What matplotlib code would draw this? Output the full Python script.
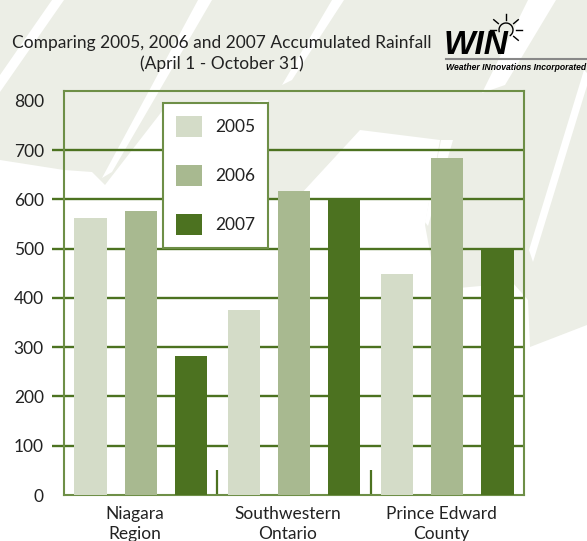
import matplotlib
matplotlib.use("Agg")
import matplotlib.pyplot as plt
import numpy as np
from matplotlib.patches import Polygon, Arc
from matplotlib.lines import Line2D

plt.rcParams['font.family'] = ['Lato', 'DejaVu Sans']

categories = ["Niagara\nRegion", "Southwestern\nOntario", "Prince Edward\nCounty"]
series_names = ["2005", "2006", "2007"]
rain_2005 = [562, 375, 448]
rain_2006 = [576, 617, 685]
rain_2007 = [282, 600, 502]
y_ticks = [0, 100, 200, 300, 400, 500, 600, 700, 800]

colors = ["#d4dcc8", "#a8b990", "#4c7220"]
grid_col = "#4c7220"
border_col = "#6e8f47"
pale = "#eceee6"

W, H = 587, 541
fig = plt.figure(figsize=(W / 100, H / 100), dpi=100)
fig.patch.set_facecolor("white")

def px(pts):
    return [(x / W, 1 - y / H) for x, y in pts]

# decorative background leaves
pale_poly = [(0, 0), (587, 0), (587, 325), (530, 347), (528, 300), (513, 283),
             (437, 290), (425, 225), (440, 140), (360, 130), (300, 195),
             (268, 200), (268, 100), (163, 110), (105, 185), (92, 172),
             (64, 170), (0, 160)]
fig.patches.append(Polygon(px(pale_poly), closed=True, transform=fig.transFigure,
                           facecolor=pale, edgecolor="none", zorder=-10))
white_stripes = [
    [(0, 75), (52, 0), (64, 0), (0, 92)],
    [(198, 0), (212, 0), (112, 172), (102, 178)],
    [(332, 0), (344, 0), (292, 80), (282, 85)],
    [(528, 0), (556, 0), (505, 85), (482, 93)],
    [(584, 70), (590, 76), (533, 262), (529, 250)],
    [(441, 140), (453, 140), (428, 226), (425, 222)],
]
for s in white_stripes:
    fig.patches.append(Polygon(px(s), closed=True, transform=fig.transFigure,
                               facecolor="white", edgecolor="none", zorder=-9))

# axes placement (pixels): left 64, right 524, top 91, bottom 495
ax = fig.add_axes([64 / W, 1 - 495 / H, (524 - 64) / W, (495 - 91) / H])
ax.set_facecolor("none")

x = np.arange(len(categories))
off = 0.327
bw = 0.21
series = [rain_2005, rain_2006, rain_2007]
for i, (vals, name) in enumerate(zip(series, series_names)):
    ax.bar(x + (i - 1) * off, vals, width=bw, color=colors[i], label=name, zorder=3)

ax.set_xlim(-0.5, 2.5)
ax.set_ylim(0, 820)

# gridlines extending outside as tick marks
for t in y_ticks[1:-1]:
    ax.plot([-0.026, 1.0], [t, t], transform=ax.get_yaxis_transform(),
            color=grid_col, lw=1.7, clip_on=False, zorder=1, solid_capstyle="butt")

# category separators
for s in [0.5, 1.5]:
    ax.plot([s, s], [0, 51], color=grid_col, lw=1.6, zorder=1, solid_capstyle="butt")

ax.set_yticks(y_ticks)
ax.set_yticklabels([str(t) for t in y_ticks])
ax.tick_params(axis="y", length=0, pad=14.5, labelsize=12.5, labelcolor="#222222")
ax.set_xticks(x - 0.04)
ax.set_xticklabels(categories, linespacing=1.3)
ax.tick_params(axis="x", length=0, pad=8, labelsize=12.5, labelcolor="#222222")

for sp in ax.spines.values():
    sp.set_color(border_col)
    sp.set_linewidth(1.5)

leg = ax.legend(loc="upper left", bbox_to_anchor=((163 - 64) / 460, (495 - 103) / 404),
                fontsize=12.5, frameon=True, fancybox=False, framealpha=1,
                handlelength=1.5, handleheight=1.5, labelspacing=1.6,
                borderpad=0.75, handletextpad=0.75, borderaxespad=0)
leg.get_frame().set_edgecolor(border_col)
leg.get_frame().set_linewidth(1.5)
leg.set_zorder(5)
for t in leg.get_texts():
    t.set_color("#222222")

# title
fig.text(222 / W, 1 - 43 / H, "Comparing 2005, 2006 and 2007 Accumulated Rainfall",
         ha="center", va="center", fontsize=12.5, color="#222222")
fig.text(222 / W, 1 - 64 / H, "(April 1 - October 31)",
         ha="center", va="center", fontsize=12.5, color="#222222")

# logo
fig.text(444 / W, 1 - 46 / H, "WIN", ha="left", va="center", fontsize=24,
         fontweight="bold", fontstyle="italic", family="Liberation Sans", color="black")
fig.add_artist(Line2D([446 / W, 1.0], [1 - 59 / H, 1 - 59 / H], color="#888888", lw=1.5))
fig.text(446 / W, 1 - 67 / H, "Weather INnovations Incorporated", ha="left", va="center",
         fontsize=6.2, fontweight="bold", fontstyle="italic", family="Liberation Sans",
         color="black")
cx, cy = 506, 30
fig.add_artist(Arc((cx / W, 1 - cy / H), 14 / W, 14 / H, theta1=-60, theta2=200,
                   transform=fig.transFigure, color="black", lw=1.0))
for ang in [-40, 0, 40, 90, 140, 180]:
    a = np.deg2rad(ang)
    r1, r2 = 10, 16
    fig.add_artist(Line2D([(cx + r1 * np.cos(a)) / W, (cx + r2 * np.cos(a)) / W],
                          [1 - (cy - r1 * np.sin(a)) / H, 1 - (cy - r2 * np.sin(a)) / H],
                          color="black", lw=1.0))

fig.savefig("out.png", dpi=100, facecolor=fig.get_facecolor())
